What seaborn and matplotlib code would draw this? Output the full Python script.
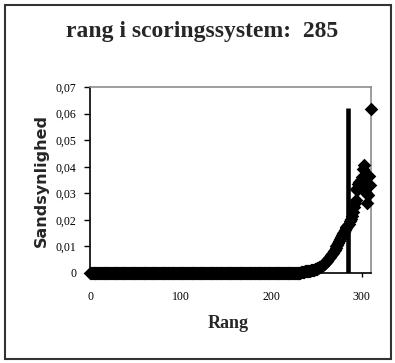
import matplotlib
matplotlib.use("Agg")
import matplotlib.pyplot as plt
import seaborn as sns
import pandas as pd
import numpy as np
from matplotlib.patches import Rectangle

# ---- data ----
title_text = "rang i scoringssystem:  285"
x_label = "Rang"
y_label = "Sandsynlighed"

flat_count = 233  # ranks 0..232 are ~0
flat_values = [0.0] * flat_count
rise_values = [
    0.0004, 0.0005, 0.0005, 0.0005, 0.0006, 0.0006, 0.0007, 0.0007,   # 233-240
    0.0008, 0.0008, 0.0009, 0.0010, 0.0011, 0.0012, 0.0013, 0.0014,   # 241-248
    0.0015, 0.0016, 0.0018, 0.0020, 0.0022, 0.0024, 0.0026, 0.0028,   # 249-256
    0.0030, 0.0033, 0.0036, 0.0040, 0.0044, 0.0048, 0.0053, 0.0058,   # 257-264
    0.0062, 0.0067, 0.0072, 0.0077, 0.0082, 0.0088, 0.0094, 0.0100,   # 265-272
    0.0107, 0.0114, 0.0121, 0.0128, 0.0135, 0.0142, 0.0149, 0.0156,   # 273-280
    0.0162, 0.0168, 0.0173, 0.0177, 0.0180,                           # 281-285
]
tail_values = [
    0.0185, 0.0195, 0.0205, 0.0215, 0.0228, 0.0248, 0.0262, 0.0275,   # 286-293
    0.0318, 0.0312, 0.0335, 0.0343, 0.0328, 0.0350, 0.0360, 0.0392,   # 294-301
    0.0406, 0.0352, 0.0330, 0.0300, 0.0262, 0.0292, 0.0365, 0.0332,   # 302-309
    0.0617,                                                           # 310
]
probabilities = flat_values + rise_values + tail_values
ranks = list(range(len(probabilities)))

marked_rank = 285
marked_height = 0.0620

x_ticks = [0, 100, 200, 300]
x_tick_labels = ["0", "100", "200", "300"]
y_ticks = [0, 0.01, 0.02, 0.03, 0.04, 0.05, 0.06, 0.07]
y_tick_labels = ["0", "0,01", "0,02", "0,03", "0,04", "0,05", "0,06", "0,07"]

df = pd.DataFrame({"Rang": ranks, "Sandsynlighed": probabilities})

# ---- figure ----
sns.set_style("white")
plt.rcParams["font.family"] = ["Liberation Serif", "DejaVu Serif"]

fig = plt.figure(figsize=(3.95, 3.63), dpi=100)
fig.patch.set_facecolor("white")
fig.patches.append(Rectangle((0.012, 0.012), 0.978, 0.974, transform=fig.transFigure,
                             fill=False, edgecolor="#333333", linewidth=1.5))

ax = fig.add_axes([0.228, 0.248, 0.711, 0.512])

ax.vlines([marked_rank], 0, marked_height, color="black", linewidth=3.3, zorder=2)
sns.scatterplot(data=df, x="Rang", y="Sandsynlighed", marker="D", s=48,
                color="black", edgecolor="black", linewidth=0, ax=ax,
                clip_on=False, zorder=3)

ax.set_xlim(0, 310)
ax.set_ylim(0, 0.07)
ax.set_xticks(x_ticks)
ax.set_xticklabels(x_tick_labels)
ax.set_yticks(y_ticks)
ax.set_yticklabels(y_tick_labels)
ax.tick_params(axis="y", direction="out", length=4, width=1, pad=6, labelsize=8.5, colors="black")
ax.tick_params(axis="x", direction="out", length=3, width=1, pad=10, labelsize=8.5, colors="black")
ax.yaxis.set_ticks_position("left")
ax.xaxis.set_ticks_position("bottom")

for side in ["top", "right"]:
    ax.spines[side].set_color("#8c8c8c")
    ax.spines[side].set_linewidth(1.2)
for side in ["left", "bottom"]:
    ax.spines[side].set_color("black")
    ax.spines[side].set_linewidth(1.2)
    ax.spines[side].set_visible(True)

ax.set_xlabel("")
ax.set_ylabel("")

fig.text(0.512, 0.912, title_text, ha="center", va="center",
         fontsize=17, fontweight="bold")
fig.text(0.577, 0.110, x_label, ha="center", va="center",
         fontsize=13, fontweight="bold")
fig.text(0.106, 0.504, y_label, ha="center", va="center", rotation=90,
         fontsize=11.5, fontweight="bold", family=["DejaVu Sans"])

fig.savefig("out.png", dpi=100, facecolor="white")
